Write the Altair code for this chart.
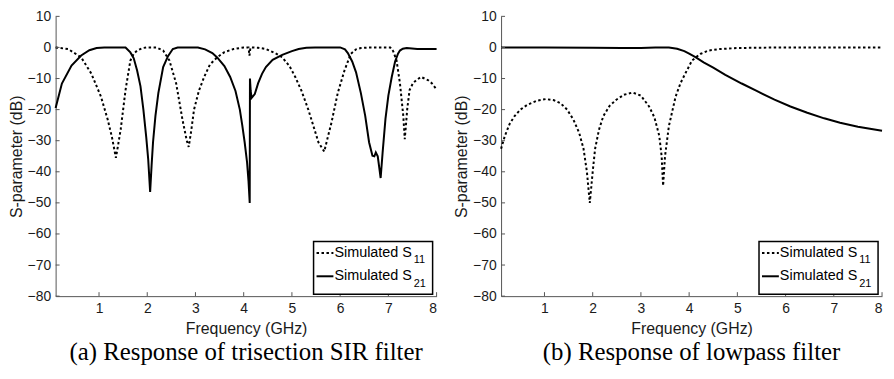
import altair as alt
import pandas as pd

# ---------------- data: (a) trisection SIR filter ----------------
a_s11_f = [0.10, 0.36, 0.63, 0.84, 1.04, 1.18, 1.27, 1.35, 1.40, 1.45, 1.55, 1.65, 1.72, 1.79, 1.90, 1.99,
           2.19, 2.33, 2.46, 2.60, 2.73, 2.82, 2.86, 2.91, 2.97, 3.07, 3.18, 3.30, 3.45, 3.60, 3.79, 4.00,
           4.10, 4.12, 4.14, 4.30, 4.46, 4.65, 4.80, 4.95, 5.07, 5.20, 5.34, 5.45, 5.55, 5.67, 5.75, 5.82,
           5.95, 6.09, 6.22, 6.33, 6.43, 6.60, 7.04, 7.10, 7.17, 7.24, 7.31, 7.34, 7.37, 7.39, 7.44, 7.51,
           7.58, 7.68, 7.82, 7.90, 8.00]
a_s11_db = [0, -0.5, -3.2, -8.4, -15.8, -23.2, -29, -35.5, -31, -26.3, -13.7, -4.2, -2, -1, -0.2, 0,
            0, -1, -4.2, -11.6, -23.2, -30, -32, -27, -20, -14, -9.5, -5.5, -3.2, -1.5, -0.5, 0,
            0, -2.6, 0, -0.1, -0.5, -1.8, -3.2, -6, -9.5, -14, -20, -25.5, -30.5, -33.5, -28.5, -24.2,
            -14.7, -7.4, -2.1, -0.6, -0.2, 0, 0, -1.2, -4.2, -11.5, -22.1, -29.5, -24, -20, -13.7, -11.5,
            -10.5, -9.5, -10.5, -11.5, -13.5]

a_s21_f = [0.10, 0.23, 0.43, 0.63, 0.80, 0.95, 1.11, 1.55, 1.65, 1.72, 1.79, 1.86, 1.92, 1.98, 2.02, 2.06,
           2.09, 2.12, 2.17, 2.23, 2.33, 2.43, 2.53, 2.63, 3.05, 3.20, 3.35, 3.45, 3.60, 3.72, 3.83, 3.92,
           3.97, 4.02, 4.07, 4.10, 4.125, 4.13, 4.145, 4.165, 4.23, 4.30, 4.38, 4.46, 4.60, 4.80, 5.00, 5.14,
           5.30, 5.48, 6.00, 6.10, 6.16, 6.25, 6.33, 6.43, 6.52, 6.60, 6.67, 6.71, 6.74, 6.78, 6.81, 6.84,
           6.88, 6.94, 7.00, 7.07, 7.14, 7.20, 7.24, 7.30, 7.38, 7.60, 8.00]
a_s21_db = [-19.5, -11.6, -5.8, -2.6, -0.9, -0.2, 0, 0, -1.6, -3.5, -7.4, -12.5, -20, -29, -36, -46.5,
            -38, -30.5, -22, -14.7, -6.3, -2.8, -0.5, 0, 0, -0.6, -1.8, -3.2, -6, -9.5, -14, -20,
            -25, -30.5, -37, -43, -50, -10, -14, -16.2, -15, -11.5, -8.5, -6.3, -4, -2.4, -1.2, -0.5,
            -0.1, 0, 0, -0.6, -1.8, -4.5, -8, -14.7, -22, -30.5, -34.8, -35, -33.8, -35, -38.5, -42,
            -34, -23, -15.5, -9.5, -4.5, -2, -1, -0.4, -0.2, -0.5, -0.5]

# ---------------- data: (b) lowpass filter ----------------
b_s11_f = [0.10, 0.18, 0.28, 0.38, 0.50, 0.65, 0.85, 1.03, 1.20, 1.33, 1.47, 1.60, 1.72, 1.81, 1.88, 1.94,
           2.00, 2.05, 2.13, 2.22, 2.35, 2.49, 2.65, 2.83, 3.00, 3.17, 3.28, 3.38, 3.43, 3.46, 3.50, 3.58,
           3.72, 3.82, 3.92, 4.06, 4.23, 4.40, 4.64, 5.00, 5.32, 6.00, 8.00]
b_s11_db = [-32.6, -28.4, -24.5, -22.1, -20, -18.4, -17.1, -16.6, -17, -17.9, -20, -23.2, -27.5, -32.6, -40, -50,
            -40, -32.6, -26.5, -22.1, -18.8, -16.8, -15.2, -14.5, -15.5, -19, -22.5, -28.4, -35, -44.5, -35, -25.3,
            -15.8, -11.5, -8.4, -4.2, -2.1, -1.0, -0.5, -0.2, -0.1, 0, 0]

b_s21_f = [0.10, 1.00, 2.00, 2.60, 3.00, 3.30, 3.58, 3.75, 3.90, 4.00, 4.14, 4.30, 4.50, 4.75, 5.09, 5.40,
           5.77, 6.10, 6.45, 6.80, 7.13, 7.50, 8.00]
b_s21_db = [0, 0, -0.1, -0.2, -0.2, 0, 0, -0.4, -1.2, -2.0, -3.2, -4.8, -6.5, -8.8, -11.6, -14,
            -16.8, -19, -21, -22.8, -24.2, -25.5, -26.8]

x_ticks = [1, 2, 3, 4, 5, 6, 7, 8]
y_ticks = [-80, -70, -60, -50, -40, -30, -20, -10, 0, 10]
captions = ["(a) Response of trisection SIR filter", "(b) Response of lowpass filter"]
legend_labels = ["Simulated S", "Simulated S"]
legend_subs = ["11", "21"]

W, H = 384, 282
AXC = "#555555"
TXT = "#1a1a1a"
FONT = "Liberation Sans"


def panel(s11f, s11v, s21f, s21v, caption):
    xs = alt.Scale(domain=[0.1, 8], nice=False, zero=False)
    ys = alt.Scale(domain=[-80, 10], nice=False, zero=False)
    xenc = alt.X("f:Q", scale=xs,
                 axis=alt.Axis(values=x_ticks, title="Frequency (GHz)", ticks=False, grid=False,
                               labelPadding=6, titlePadding=5))
    yenc = alt.Y("db:Q", scale=ys,
                 axis=alt.Axis(values=y_ticks, title="S-parameter (dB)", ticks=False, grid=False,
                               labelPadding=5, titlePadding=3))
    d11 = pd.DataFrame({"f": s11f, "db": s11v})
    d21 = pd.DataFrame({"f": s21f, "db": s21v})
    l11 = alt.Chart(d11).mark_line(color="black", strokeWidth=2, strokeDash=[2.5, 2.5]).encode(x=xenc, y=yenc)
    l21 = alt.Chart(d21).mark_line(color="black", strokeWidth=2).encode(x=xenc, y=yenc)

    xt = alt.Chart(pd.DataFrame({"f": x_ticks})).mark_rule(color=AXC, strokeWidth=1).encode(
        x=xenc, y=alt.value(H), y2=alt.value(H - 4))
    yt = alt.Chart(pd.DataFrame({"db": y_ticks})).mark_rule(color=AXC, strokeWidth=1).encode(
        y=yenc, x=alt.value(0), x2=alt.value(4))

    one = pd.DataFrame({"k": [0]})
    box = alt.Chart(one).mark_rect(fill="white", stroke="black", strokeWidth=1.5).encode(
        x=alt.value(W - 124), x2=alt.value(W - 4), y=alt.value(H - 55), y2=alt.value(H - 2))
    rows_y = [H - 43.5, H - 20]
    s1 = alt.Chart(one).mark_rule(color="black", strokeWidth=2, strokeDash=[2.5, 2.5]).encode(
        x=alt.value(W - 121), x2=alt.value(W - 104), y=alt.value(rows_y[0]))
    s2 = alt.Chart(one).mark_rule(color="black", strokeWidth=2).encode(
        x=alt.value(W - 121), x2=alt.value(W - 104), y=alt.value(rows_y[1]))
    texts = []
    for i in range(2):
        texts.append(alt.Chart(one).mark_text(align="left", baseline="middle", font=FONT, fontSize=14.5,
                                              color="black", text=legend_labels[i]).encode(
            x=alt.value(W - 103), y=alt.value(rows_y[i])))
        texts.append(alt.Chart(one).mark_text(align="left", baseline="middle", font=FONT, fontSize=11,
                                              color="black", text=legend_subs[i]).encode(
            x=alt.value(W - 23), y=alt.value(rows_y[i] + 7.5)))

    return alt.layer(l11, l21, xt, yt, box, s1, s2, *texts).properties(
        width=W, height=H,
        title=alt.TitleParams(caption, orient="bottom", anchor="middle", font="Liberation Serif",
                              fontSize=25, fontWeight="normal", color="black", offset=3))


chart = alt.hconcat(
    panel(a_s11_f, a_s11_db, a_s21_f, a_s21_db, captions[0]),
    panel(b_s11_f, b_s11_db, b_s21_f, b_s21_db, captions[1]),
    spacing=13,
).properties(padding=0, background="white").configure_view(stroke=None).configure_axis(
    domainColor=AXC, domainWidth=1, labelFont=FONT, titleFont=FONT, labelFontSize=14,
    titleFontSize=16, titleFontWeight="normal", labelColor=TXT, titleColor=TXT,
)

chart.save("out.html", embed_options={"renderer": "svg", "actions": False})
